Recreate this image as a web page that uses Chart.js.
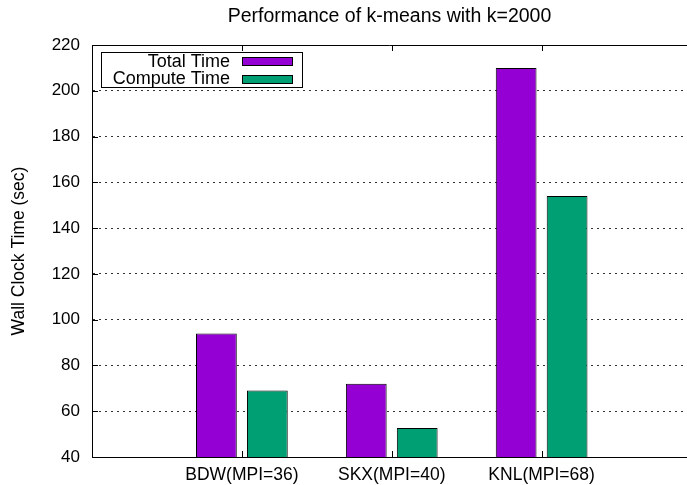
<!DOCTYPE html>
<html>
<head>
<meta charset="utf-8">
<script src="https://cdn.jsdelivr.net/npm/chart.js@4/dist/chart.umd.min.js"></script>
<style>
  html, body { margin: 0; padding: 0; overflow: hidden; background: #fff; }
  #c { display: block; }
</style>
</head>
<body>
<canvas id="c" width="687" height="485"></canvas>
<script>
// Wall clock time per platform (seconds)
const categories = ['BDW(MPI=36)', 'SKX(MPI=40)', 'KNL(MPI=68)'];
const totalTime = [94, 72, 210];
const computeTime = [69, 52.7, 154];
const yMin = 40, yMax = 220, yStep = 20;
// visible x range: categories sit at 0, 1, 2
const xMin = -1, xMax = 2.97;

const FONT = '"Liberation Sans", Arial, Helvetica, sans-serif';
const INK = '#000';

const toPoints = arr => arr.map((v, i) => ({ x: i, y: v }));

// gnuplot-style frame: top line plus tick marks pointing into the plot
const frameTicks = {
  id: 'frameTicks',
  afterDatasetsDraw(chart) {
    const { ctx, chartArea: a, scales } = chart;
    const px = v => Math.round(v) + 0.5;
    ctx.save();
    ctx.strokeStyle = INK;
    ctx.lineWidth = 1;
    ctx.beginPath();
    ctx.moveTo(px(a.left), px(a.top));
    ctx.lineTo(a.right, px(a.top));
    scales.y.ticks.forEach((t, i) => {
      const y = px(scales.y.getPixelForTick(i));
      ctx.moveTo(a.left, y); ctx.lineTo(a.left + 6, y);
    });
    scales.x.ticks.forEach((t, i) => {
      const x = px(scales.x.getPixelForTick(i));
      ctx.moveTo(x, a.bottom); ctx.lineTo(x, a.bottom - 6);
      ctx.moveTo(x, a.top); ctx.lineTo(x, a.top + 6);
    });
    ctx.stroke();
    ctx.restore();
  }
};

// key box in the upper left: label text right-aligned, swatch to its right
const keyBox = {
  id: 'keyBox',
  afterDatasetsDraw(chart) {
    const { ctx, chartArea: a } = chart;
    const x0 = Math.round(a.left) + 9, y0 = Math.round(a.top) + 7;
    const w = 201, h = 35;
    ctx.save();
    ctx.lineWidth = 1;
    ctx.strokeStyle = INK;
    ctx.strokeRect(x0 + 0.5, y0 + 0.5, w, h);
    ctx.font = '18px ' + FONT;
    ctx.textAlign = 'right';
    ctx.textBaseline = 'middle';
    chart.data.datasets.forEach((ds, i) => {
      const cy = y0 + 10 + i * 17.5;
      ctx.fillStyle = INK;
      ctx.fillText(ds.label, x0 + 129, cy);
      ctx.fillStyle = ds.backgroundColor;
      ctx.fillRect(x0 + 141, Math.round(cy - 5), 50, 8);
      ctx.strokeRect(x0 + 141.5, Math.round(cy - 5) + 0.5, 50, 8);
    });
    ctx.restore();
  }
};

new Chart(document.getElementById('c'), {
  type: 'bar',
  data: {
    datasets: [
      {
        label: 'Total Time',
        data: toPoints(totalTime),
        backgroundColor: '#9400d3',
        borderColor: INK,
        borderWidth: 1,
        borderSkipped: false
      },
      {
        label: 'Compute Time',
        data: toPoints(computeTime),
        backgroundColor: '#009e73',
        borderColor: INK,
        borderWidth: 1,
        borderSkipped: false
      }
    ]
  },
  options: {
    responsive: false,
    animation: false,
    devicePixelRatio: 1,
    categoryPercentage: 0.68,
    barPercentage: 0.8,
    layout: { padding: 0 },
    plugins: {
      legend: { display: false },
      tooltip: { enabled: false },
      title: {
        display: true,
        fullSize: false,
        text: 'Performance of k-means with k=2000',
        color: INK,
        font: { family: FONT, size: 19.5, weight: 'normal' },
        padding: { top: 5, bottom: 16.6 }
      }
    },
    scales: {
      x: {
        type: 'linear',
        min: xMin,
        max: xMax,
        offset: false,
        grid: { display: false, drawTicks: false },
        border: { display: true, color: INK, width: 1 },
        afterBuildTicks(scale) {
          scale.ticks = categories.map((c, i) => ({ value: i }));
        },
        ticks: {
          color: INK,
          font: { family: FONT, size: 17.5 },
          padding: 8,
          maxRotation: 0,
          autoSkip: false,
          callback: v => categories[v] ?? ''
        },
        afterFit(scale) {
          scale.height = 28;
          scale.paddingLeft = 0;
          scale.paddingRight = 0;
        }
      },
      y: {
        min: yMin,
        max: yMax,
        grid: {
          drawTicks: false,
          color: ctx => (ctx.tick && (ctx.tick.value === yMin || ctx.tick.value === yMax)) ? 'rgba(0,0,0,0)' : '#333',
          lineWidth: 1
        },
        border: { display: true, color: INK, width: 1, dash: [2, 4] },
        ticks: {
          stepSize: yStep,
          color: INK,
          font: { family: FONT, size: 17 },
          padding: 12
        },
        title: {
          display: true,
          text: 'Wall Clock Time (sec)',
          color: INK,
          font: { family: FONT, size: 17.5 },
          padding: { top: 9, bottom: 0 }
        },
        afterFit(scale) { scale.width = 92; }
      }
    }
  },
  plugins: [frameTicks, keyBox]
});
</script>
</body>
</html>
